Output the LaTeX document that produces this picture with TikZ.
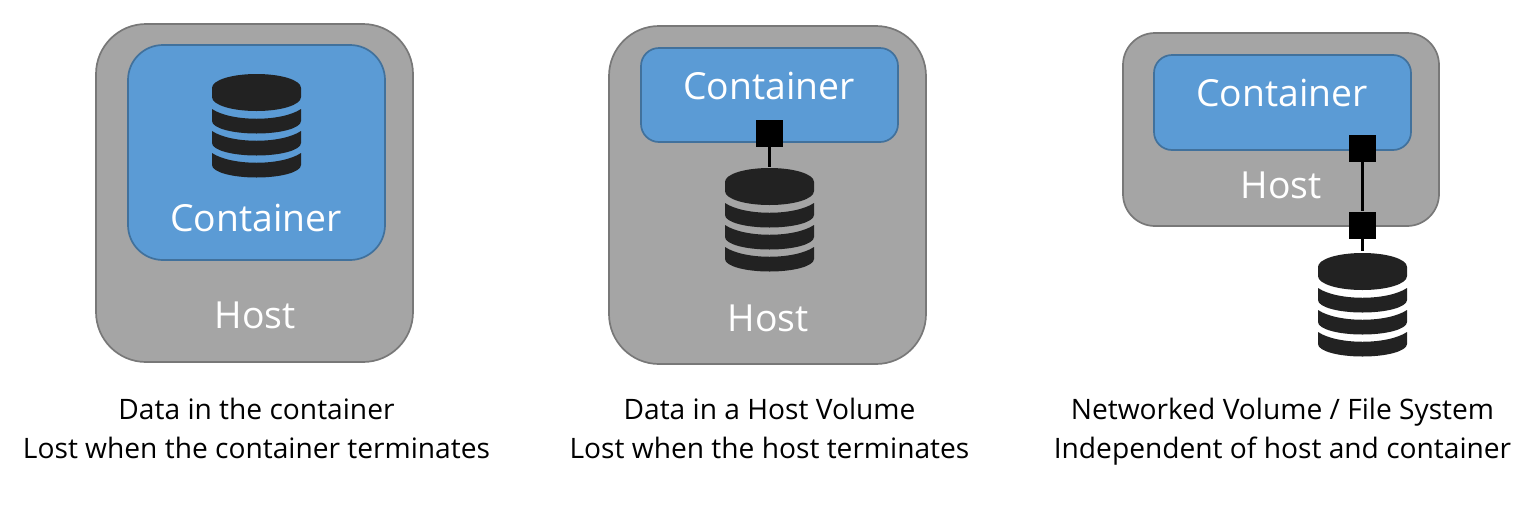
\documentclass[tikz,border=0pt]{standalone}
\usepackage{fontspec}
\setmainfont{Open Sans}
\definecolor{hostfill}{HTML}{A5A5A5}
\definecolor{hostline}{HTML}{787878}
\definecolor{contfill}{HTML}{5B9BD5}
\definecolor{contline}{HTML}{41719C}
\definecolor{dbfill}{HTML}{222222}
\tikzset{
  hostbox/.style={draw=hostline,fill=hostfill,line width=1.7pt,rounded corners=#1},
  contbox/.style={draw=contline,fill=contfill,line width=1.7pt,rounded corners=#1},
  boxlabel/.style={text=white,font=\fontsize{37.3}{37.3}\selectfont,anchor=base,inner sep=0pt},
  caption/.style={text=black,font=\fontsize{28.15}{28.15}\selectfont,anchor=base,inner sep=0pt},
  mount/.style={fill=black,draw=none,minimum size=27pt,inner sep=0pt,rectangle},
  link/.style={draw=black,line width=3pt},
  dbicon/.pic={
    \fill[dbfill] (-44.5,14) .. controls (-44.5,6) and (-24.6,0) .. (0,0)
       .. controls (24.6,0) and (44.5,6) .. (44.5,14) -- (44.5,23)
       .. controls (44.5,31) and (24.6,37) .. (0,37)
       .. controls (-24.6,37) and (-44.5,31) .. (-44.5,23) -- cycle;
    \foreach \k in {0,22,44}{
      \fill[dbfill] (-44.5,35+\k) .. controls (-25,48+\k) and (25,48+\k) .. (44.5,35+\k)
        -- (44.5,47+\k) .. controls (44.5,54+\k) and (24.6,59.5+\k) .. (0,59.5+\k)
        .. controls (-24.6,59.5+\k) and (-44.5,54+\k) .. (-44.5,47+\k) -- cycle;
    }
  }
}
\begin{document}
\begin{tikzpicture}[x=1pt,y=-1pt]
\useasboundingbox (0,0) rectangle (1540,515);
% Panel 1
\draw[hostbox=50pt] (96,24) rectangle (413,362);
\draw[contbox=35pt] (128,45) rectangle (385,260);
\pic at (256.5,74) {dbicon};
\node[boxlabel] (c1) at (256,231) {Container};
\node[boxlabel] (h1) at (255,328) {Host};
\node[caption] (t1a) at (256.5,419) {Data in the container};
\node[caption] (t1b) at (256.5,458) {Lost when the container terminates};
% Panel 2
\draw[hostbox=50pt] (609,26) rectangle (926,364);
\draw[contbox=18pt] (641,48) rectangle (898,142);
\node[boxlabel] (c2) at (769,99) {Container};
\node[boxlabel] (h2) at (768,331) {Host};
\pic at (769.5,168) {dbicon};
\coordinate (db2) at (769.5,167);
\node[mount] (m2) at (769.5,133.5) {};
\draw[link] (m2) -- (db2);
\node[caption] (t2a) at (769.5,419) {Data in a Host Volume};
\node[caption] (t2b) at (769.5,458) {Lost when the host terminates};
% Panel 3
\draw[hostbox=32pt] (1123,33) rectangle (1439,226);
\draw[contbox=18pt] (1154,55) rectangle (1411,150);
\node[boxlabel] (c3) at (1282,106) {Container};
\node[boxlabel] (h3) at (1281,198) {Host};
\pic at (1362.5,253) {dbicon};
\coordinate (db3) at (1362,251);
\node[mount] (m3a) at (1362,148) {};
\node[mount] (m3b) at (1362,225) {};
\draw[link] (m3a) -- (m3b);
\draw[link] (m3b) -- (db3);
\node[caption] (t3a) at (1282.5,419) {Networked Volume / File System};
\node[caption] (t3b) at (1282.5,458) {Independent of host and container};
\end{tikzpicture}
\end{document}
